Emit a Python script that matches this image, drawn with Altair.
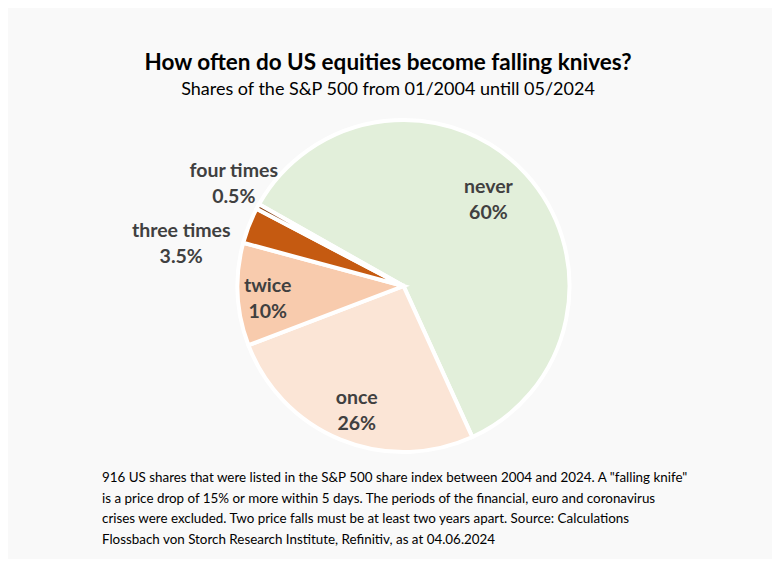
import math
import altair as alt
import pandas as pd

categories = ["never", "once", "twice", "three times", "four times"]
shares = [60, 26, 10, 3.5, 0.5]
pct_labels = ["60%", "26%", "10%", "3.5%", "0.5%"]
colors = ["#E2EFDA", "#FBE5D6", "#F8CBAD", "#C55A11", "#843C0C"]

title = "How often do US equities become falling knives?"
subtitle = "Shares of the S&P 500 from 01/2004 untill 05/2024"
footnote = [
    "916 US shares that were listed in the S&P 500 share index between 2004 and 2024. A \"falling knife\"",
    "is a price drop of 15% or more within 5 days. The periods of the financial, euro and coronavirus",
    "crises were excluded. Two price falls must be at least two years apart. Source: Calculations",
    "Flossbach von Storch Research Institute, Refinitiv, as at 04.06.2024",
]

FONT = "Lato"
TXT = "#404040"
CX, CY, R = 395.5, 278, 166
start = math.radians(299.5)

df = pd.DataFrame({
    "category": categories,
    "share": shares,
    "label": [f"{c}\n{p}" for c, p in zip(categories, pct_labels)],
    "order": list(range(len(categories))),
})

theta = alt.Theta("share:Q", stack=True,
                  scale=alt.Scale(domain=[0, 100], range=[start, start + 2 * math.pi]))
color = alt.Color("category:N", scale=alt.Scale(domain=categories, range=colors), legend=None)
order = alt.Order("order:O")

base = alt.Chart(df)

pie = base.mark_arc(stroke="white", strokeWidth=4, x=CX, y=CY).encode(
    theta=theta, color=color, order=order, radius=alt.value(R)
)

def label_layer(cat, r, dx=0, dy=0):
    return base.mark_text(
        x=CX, y=CY, font=FONT, fontSize=19.5, fontWeight="bold", color=TXT,
        lineBreak="\n", lineHeight=26, align="center", baseline="middle", dx=dx, dy=dy,
    ).encode(
        theta=theta, order=order, radius=alt.value(r), text="label:N",
        opacity=alt.condition(alt.datum.category == cat, alt.value(1), alt.value(0)),
    )

labels = [
    label_layer("never", 126, -8, -14),
    label_layer("once", 126, 1, -5),
    label_layer("twice", 135, -1, -7),
    label_layer("three times", 199, -37, 18),
    label_layer("four times", 199, 5, -20),
]

title_df = pd.DataFrame({"t": [title]})
sub_df = pd.DataFrame({"t": [subtitle]})
t1 = alt.Chart(title_df).mark_text(font=FONT, fontSize=22.5, fontWeight="bold", color="#000000",
                                   align="center", baseline="middle").encode(
    text="t:N", x=alt.value(380), y=alt.value(55))
t2 = alt.Chart(sub_df).mark_text(font=FONT, fontSize=18, color="#000000",
                                 align="center", baseline="middle").encode(
    text="t:N", x=alt.value(380), y=alt.value(82))

foot_df = pd.DataFrame({"t": footnote, "i": list(range(len(footnote)))})
foot = alt.Chart(foot_df).mark_text(font=FONT, fontSize=13.4, color="#000000",
                                    align="left", baseline="middle").encode(
    text="t:N", x=alt.value(94),
    y=alt.Y("i:Q", scale=alt.Scale(domain=[0, 3], range=[470, 532]), axis=None),
)

chart = alt.layer(pie, *labels, t1, t2, foot).properties(
    width=764, height=551, padding=0, autosize="none", background="#F9F9F9"
).configure_view(stroke=None)

chart.save("out.html", embed_options={"renderer": "svg", "actions": False})
